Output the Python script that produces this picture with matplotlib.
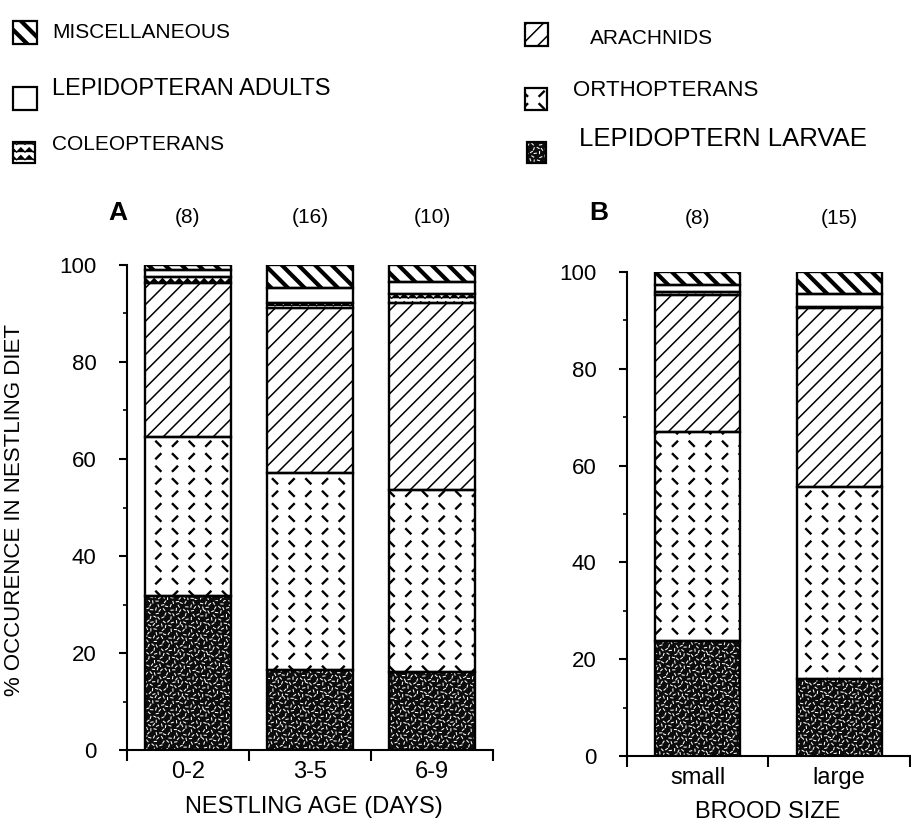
import numpy as np
import matplotlib
matplotlib.use('Agg')
import matplotlib.pyplot as plt
import matplotlib.hatch as mhatch
from matplotlib.path import Path
from matplotlib.patches import Rectangle

# ---------------- data ----------------
age_groups = ['0-2', '3-5', '6-9']
age_n = ['(8)', '(16)', '(10)']
brood_groups = ['small', 'large']
brood_n = ['(8)', '(15)']

larvae_age = [31.8, 16.5, 16.1]
orthopterans_age = [32.7, 40.6, 37.5]
arachnids_age = [31.8, 34.0, 38.6]
coleopterans_age = [1.2, 1.1, 1.8]
lep_adults_age = [1.5, 3.1, 2.5]
misc_age = [1.0, 4.7, 3.5]

larvae_brood = [23.8, 15.9]
orthopterans_brood = [43.1, 39.7]
arachnids_brood = [28.3, 36.9]
coleopterans_brood = [0.7, 0.3]
lep_adults_brood = [1.4, 2.7]
misc_brood = [2.7, 4.5]

y_ticks = [0, 20, 40, 60, 80, 100]
y_minor = [10, 30, 50, 70, 90]

legend_labels = {
    'misc': 'MISCELLANEOUS',
    'lepad': 'LEPIDOPTERAN ADULTS',
    'coleo': 'COLEOPTERANS',
    'arach': 'ARACHNIDS',
    'ortho': 'ORTHOPTERANS',
    'larvae': 'LEPIDOPTERN LARVAE',
}

# ---------------- custom hatch textures ----------------
class DashXHatch(mhatch.HatchPatternBase):
    """dashed diagonal lattice (orthopterans) -> replaces 'O'"""
    def __init__(self, hatch, density):
        k = hatch.count('O')
        self.nx = 3 * k
        self.ny = 4 * k
        self.num_vertices = 8 * self.nx * self.ny if k else 0

    def set_vertices_and_codes(self, vertices, codes):
        ax_, ay_ = 1.0 / self.nx, 1.0 / self.ny
        h = 0.022
        pts = []
        for i in range(self.nx):
            for j in range(self.ny):
                x0, y0 = i * ax_, j * ay_
                for mx, my, s in [(0.25, 0.25, 1), (0.75, 0.25, -1),
                                  (0.25, 0.75, -1), (0.75, 0.75, 1)]:
                    cx, cy = x0 + mx * ax_, y0 + my * ay_
                    pts.append((cx - h, cy - s * h))
                    pts.append((cx + h, cy + s * h))
        vertices[:] = np.array(pts)
        codes[0::2] = Path.MOVETO
        codes[1::2] = Path.LINETO


class ZigHatch(mhatch.HatchPatternBase):
    """zigzag rows (coleopterans) -> replaces 'o'"""
    def __init__(self, hatch, density):
        k = hatch.count('o')
        self.rows = 13 * k
        self.per = 12
        self.num_vertices = self.rows * (2 * self.per + 1) if k else 0

    def set_vertices_and_codes(self, vertices, codes):
        rows, per = self.rows, self.per
        m = 2 * per + 1
        amp = 0.28 / rows
        xs = np.linspace(0, 1, m)
        sgn = np.where(np.arange(m) % 2 == 0, -1.0, 1.0)
        idx = 0
        for r in range(rows):
            y = (r + 0.5) / rows
            vertices[idx:idx + m, 0] = xs
            vertices[idx:idx + m, 1] = y + amp * sgn
            codes[idx] = Path.MOVETO
            codes[idx + 1:idx + m] = Path.LINETO
            idx += m


class SpeckleHatch(mhatch.HatchPatternBase):
    """fine speckle (larvae) -> replaces '*'"""
    def __init__(self, hatch, density):
        k = hatch.count('*')
        self.m = 480 * k
        self.num_vertices = 2 * self.m if k else 0

    def set_vertices_and_codes(self, vertices, codes):
        i = np.arange(1, self.m + 1)
        g = 1.32471795724474602596
        x = (0.5 + i / g) % 1.0
        y = (0.5 + i / g ** 2) % 1.0
        ang = (i * 2.399963) % np.pi
        L = 0.011
        dx, dy = L * np.cos(ang), L * np.sin(ang)
        vertices[0::2, 0] = x - dx
        vertices[0::2, 1] = y - dy
        vertices[1::2, 0] = x + dx
        vertices[1::2, 1] = y + dy
        codes[0::2] = Path.MOVETO
        codes[1::2] = Path.LINETO


_ht = mhatch._hatch_types
_ht[_ht.index(mhatch.LargeCircles)] = DashXHatch
_ht[_ht.index(mhatch.SmallCircles)] = ZigHatch
_ht[_ht.index(mhatch.Stars)] = SpeckleHatch

styles = {
    'larvae': dict(face='#0c0c0c', hc='white', hatch='*', hlw=0.75),
    'ortho': dict(face='white', hc='black', hatch='O', hlw=1.7),
    'arach': dict(face='white', hc='black', hatch='//', hlw=1.1),
    'coleo': dict(face='white', hc='black', hatch='o', hlw=0.9),
    'lepad': dict(face='white', hc='black', hatch=None, hlw=1.0),
    'misc': dict(face='white', hc='black', hatch='\\\\', hlw=3.0),
}

plt.rcParams['font.family'] = ['Liberation Sans', 'DejaVu Sans']

W, H = 912, 824
fig = plt.figure(figsize=(W / 100, H / 100), dpi=100)


def styled_patch_fill(artists, st):
    for p in artists:
        if hasattr(p, 'set_hatch_linewidth'):
            p.set_hatch_linewidth(st['hlw'])


def draw_panel(ax, cats, series, width):
    x = np.arange(len(cats))
    bottom = np.zeros(len(cats))
    for key, vals in series:
        st = styles[key]
        vals = np.asarray(vals, dtype=float)
        with plt.rc_context({'hatch.linewidth': st['hlw']}):
            fill = ax.bar(x, vals, width, bottom=bottom, color=st['face'],
                          edgecolor=st['hc'], linewidth=0, hatch=st['hatch'],
                          zorder=2)
        styled_patch_fill(fill, st)
        ax.bar(x, vals, width, bottom=bottom, facecolor='none',
               edgecolor='black', linewidth=1.7, zorder=3)
        bottom += vals
    n = len(cats)
    ax.set_xlim(-0.5, n - 0.5)
    ax.set_ylim(0, 100)
    for s in ('top', 'right'):
        ax.spines[s].set_visible(False)
    for s in ('left', 'bottom'):
        ax.spines[s].set_linewidth(1.5)
    ax.set_yticks(y_ticks)
    ax.set_yticks(y_minor, minor=True)
    ax.tick_params(axis='y', which='major', length=6, width=1.5,
                   direction='out', pad=16, labelsize=16)
    ax.tick_params(axis='y', which='minor', length=3, width=1.2,
                   direction='out')
    ax.set_xticks(x, cats)
    ax.set_xticks(np.arange(n + 1) - 0.5, minor=True)
    ax.tick_params(axis='x', which='major', length=0, pad=8, labelsize=17)
    ax.tick_params(axis='x', which='minor', length=8, width=1.5,
                   direction='out')
    return x


axA = fig.add_axes([127 / W, 1 - 750 / H, 366 / W, 485 / H])
axB = fig.add_axes([627 / W, 1 - 756 / H, 283 / W, 484 / H])

xa = draw_panel(axA, age_groups, [('larvae', larvae_age),
                                  ('ortho', orthopterans_age),
                                  ('arach', arachnids_age),
                                  ('coleo', coleopterans_age),
                                  ('lepad', lep_adults_age),
                                  ('misc', misc_age)], 0.70)
xb = draw_panel(axB, brood_groups, [('larvae', larvae_brood),
                                    ('ortho', orthopterans_brood),
                                    ('arach', arachnids_brood),
                                    ('coleo', coleopterans_brood),
                                    ('lepad', lep_adults_brood),
                                    ('misc', misc_brood)], 0.60)

for xi, lab in zip(xa, age_n):
    axA.text(xi, 1.097, lab, transform=axA.get_xaxis_transform(),
             ha='center', va='center', fontsize=15)
for xi, lab in zip(xb, brood_n):
    axB.text(xi, 1.111, lab, transform=axB.get_xaxis_transform(),
             ha='center', va='center', fontsize=15)

fig.text(118 / W, 1 - 213 / H, 'A', ha='center', va='center',
         fontsize=19, fontweight='bold')
fig.text(599 / W, 1 - 213 / H, 'B', ha='center', va='center',
         fontsize=19, fontweight='bold')

fig.text(15 / W, 1 - 510 / H, '% OCCURENCE IN NESTLING DIET', rotation=90,
         ha='center', va='center', fontsize=16)
fig.text(314 / W, 1 - 807 / H, 'NESTLING AGE (DAYS)', ha='center',
         va='center', fontsize=17)
fig.text(768 / W, 1 - 812 / H, 'BROOD SIZE', ha='center', va='center',
         fontsize=17)

# ---------------- legend ----------------
legend_items = [
    # key, symbol box (x0, y0, x1, y1) px, text x, text y, fontsize
    ('misc', (13, 21, 37, 44), 52, 32, 15),
    ('lepad', (13, 87, 37, 110), 52, 89, 17),
    ('coleo', (13, 142, 35, 163), 52, 144, 15),
    ('arach', (525, 23, 548, 46), 590, 39, 15),
    ('ortho', (525, 88, 547, 110), 573, 90, 16),
    ('larvae', (527, 142, 546, 163), 579, 139, 18.5),
]
for key, (x0, y0, x1, y1), tx, ty, fs in legend_items:
    st = styles[key]
    rect = (x0 / W, 1 - y1 / H)
    w, h = (x1 - x0) / W, (y1 - y0) / H
    with plt.rc_context({'hatch.linewidth': st['hlw']}):
        r = Rectangle(rect, w, h, transform=fig.transFigure,
                      facecolor=st['face'], edgecolor=st['hc'], linewidth=0,
                      hatch=st['hatch'])
    styled_patch_fill([r], st)
    fig.add_artist(r)
    fig.add_artist(Rectangle(rect, w, h, transform=fig.transFigure,
                             facecolor='none', edgecolor='black',
                             linewidth=1.6))
    fig.text(tx / W, 1 - ty / H, legend_labels[key], ha='left', va='center',
             fontsize=fs)

fig.savefig('out.png', dpi=100)
